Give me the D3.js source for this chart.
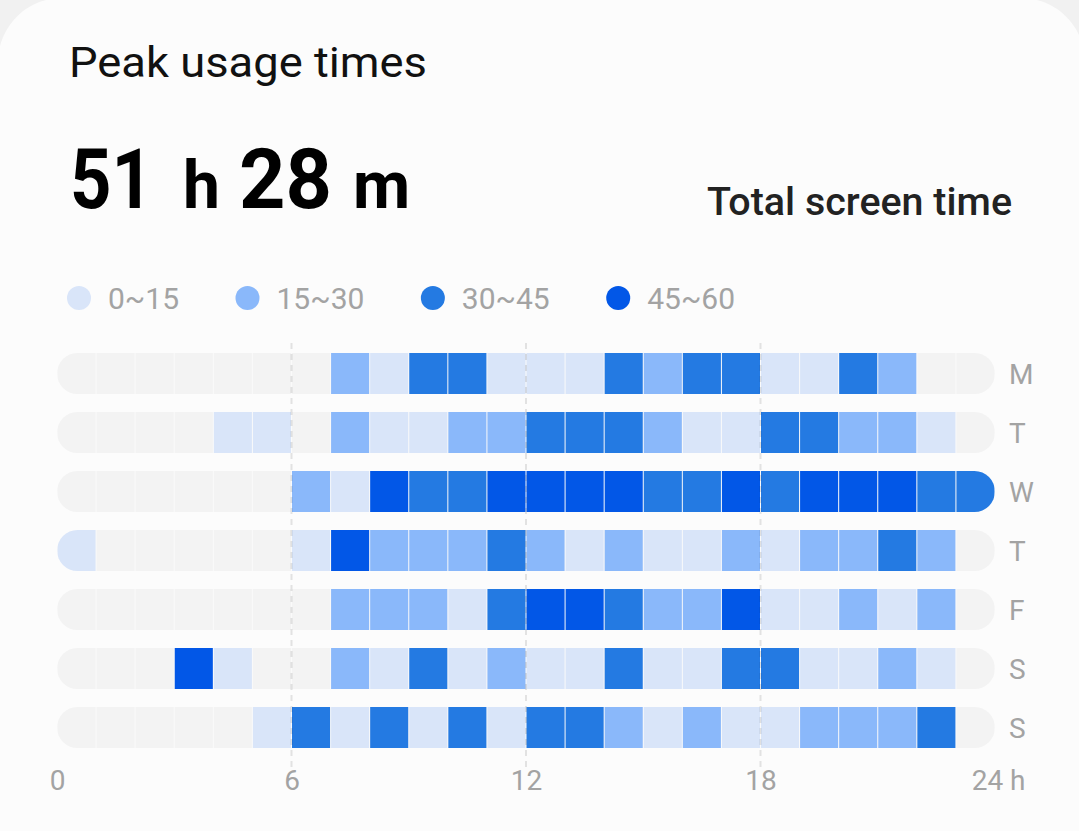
<!DOCTYPE html>
<html>
<head>
<meta charset="utf-8">
<script src="https://cdn.jsdelivr.net/npm/d3@7"></script>
<style>
  html, body { margin: 0; padding: 0; background: #f1f1f1; }
  svg { display: block; font-family: Roboto, "Noto Sans", sans-serif; }
</style>
</head>
<body>
<div id="chart"></div>
<script>
// hours 0..23, usage level per hour: 0 none, 1 = 0~15, 2 = 15~30, 3 = 30~45, 4 = 45~60
var days = ["M", "T", "W", "T", "F", "S", "S"];
var hours = d3.range(24);
var monLevels = [0,0,0,0,0,0,0,2,1,3,3,1,1,1,3,2,3,3,1,1,3,2,0,0];
var tueLevels = [0,0,0,0,1,1,0,2,1,1,2,2,3,3,3,2,1,1,3,3,2,2,1,0];
var wedLevels = [0,0,0,0,0,0,2,1,4,3,3,4,4,4,4,3,3,4,3,4,4,4,3,3];
var thuLevels = [1,0,0,0,0,0,1,4,2,2,2,3,2,1,2,1,1,2,1,2,2,3,2,0];
var friLevels = [0,0,0,0,0,0,0,2,2,2,1,3,4,4,3,2,2,4,1,1,2,1,2,0];
var satLevels = [0,0,0,4,1,0,0,2,1,3,1,2,1,1,3,1,1,3,3,1,1,2,1,0];
var sunLevels = [0,0,0,0,0,1,3,1,3,1,3,1,3,3,2,1,2,1,1,2,2,2,3,0];
var legendLabels = ["0~15", "15~30", "30~45", "45~60"];
var xTicks = [0, 6, 12, 18, 24];
var gridTicks = [6, 12, 18];

var rows = [monLevels, tueLevels, wedLevels, thuLevels, friLevels, satLevels, sunLevels];

var w = 1079, h = 831;
var levelColors = ["#f3f3f3", "#d9e5f9", "#8ab8fa", "#247ae2", "#0257e7"];

var svg = d3.select("#chart").append("svg").attr("width", w).attr("height", h);

// card
svg.append("rect").attr("x", -2).attr("y", -2).attr("width", w + 8).attr("height", h + 80)
    .attr("rx", 64).attr("fill", "#fcfcfc");

// header
svg.append("text").attr("x", 69).attr("y", 77).attr("font-size", 43).attr("fill", "#111")
    .attr("textLength", 358).attr("lengthAdjust", "spacingAndGlyphs")
    .text("Peak usage times");

var big = svg.append("g").attr("font-weight", 700).attr("fill", "#000");
big.append("text").attr("x", 70).attr("y", 208).attr("font-size", 84)
    .attr("textLength", 83).attr("lengthAdjust", "spacingAndGlyphs").text("51");
big.append("text").attr("x", 183).attr("y", 208).attr("font-size", 66).text("h");
big.append("text").attr("x", 239).attr("y", 208).attr("font-size", 84)
    .attr("textLength", 93).attr("lengthAdjust", "spacingAndGlyphs").text("28");
big.append("text").attr("x", 353).attr("y", 208).attr("font-size", 66).text("m");

svg.append("text").attr("x", 1012).attr("y", 215).attr("text-anchor", "end")
    .attr("font-size", 38).attr("font-weight", 500).attr("fill", "#222")
    .attr("textLength", 305).attr("lengthAdjust", "spacingAndGlyphs")
    .text("Total screen time");

// legend, laid out in a row: dot, label, gap
var legend = svg.append("g").selectAll("g").data(legendLabels).enter().append("g");
legend.append("circle").attr("r", 12).attr("fill", function(d, i){ return levelColors[i + 1]; });
legend.append("text").attr("x", 29).attr("y", 11).attr("font-size", 30).attr("fill", "#a3a3a3")
    .text(function(d){ return d; });
var lx = 79;
legend.each(function(){
    var g = d3.select(this);
    g.attr("transform", "translate(" + lx + ",298)");
    lx += 29 + g.select("text").node().getComputedTextLength() + 68.5;
});

// scales
var xScale = d3.scaleLinear().domain([0, 24]).range([57, 995]);
var yScale = d3.scaleBand().domain(d3.range(days.length)).range([353, 748]).paddingInner(18 / 59);
var bw = yScale.bandwidth();

var defs = svg.append("defs");
var rowG = svg.append("g").selectAll("g").data(rows).enter().append("g")
    .attr("transform", function(d, i){ return "translate(0," + yScale(i) + ")"; })
    .attr("clip-path", function(d, i){ return "url(#rowclip" + i + ")"; });

rows.forEach(function(r, i){
    defs.append("clipPath").attr("id", "rowclip" + i).append("rect")
        .attr("x", xScale(0)).attr("y", 0).attr("width", xScale(24) - xScale(0)).attr("height", bw)
        .attr("rx", bw / 2);
});

rowG.append("rect").attr("x", xScale(0)).attr("width", xScale(24) - xScale(0)).attr("height", bw)
    .attr("fill", "#fafafa");

rowG.selectAll("rect.cell")
    .data(function(d){ return hours.map(function(hr){ return {hour: hr, level: d[hr]}; }); })
    .enter().append("rect")
    .attr("class", "cell")
    .attr("x", function(d){ return xScale(d.hour) + 0.5; })
    .attr("width", function(d){ return xScale(d.hour + 1) - xScale(d.hour) - 1; })
    .attr("height", bw)
    .attr("fill", function(d){ return levelColors[d.level]; });

// dashed guide lines
svg.append("g").selectAll("line").data(gridTicks).enter().append("line")
    .attr("x1", function(d){ return xScale(d); }).attr("x2", function(d){ return xScale(d); })
    .attr("y1", 343).attr("y2", 768)
    .attr("stroke", "rgba(0,0,0,0.1)").attr("stroke-width", 2).attr("stroke-dasharray", "6,5");

// day labels
svg.append("g").selectAll("text").data(days).enter().append("text")
    .attr("x", 1009).attr("y", function(d, i){ return yScale(i) + bw / 2 + 10; })
    .attr("font-size", 28).attr("fill", "#a3a3a3")
    .text(function(d){ return d; });

// x axis
var xAxis = d3.axisBottom(xScale).tickValues(xTicks).tickSize(0).tickPadding(0)
    .tickFormat(function(d){ return d === 24 ? "24 h" : d; });
var ax = svg.append("g").attr("transform", "translate(0,762)").call(xAxis);
ax.select(".domain").remove();
ax.selectAll("text").attr("font-size", 28).attr("fill", "#a3a3a3")
    .attr("font-family", "Roboto, sans-serif").attr("dy", 28);
ax.selectAll(".tick").filter(function(d){ return d === 24; }).select("text")
    .attr("text-anchor", "end").attr("x", 30);
</script>
</body>
</html>
